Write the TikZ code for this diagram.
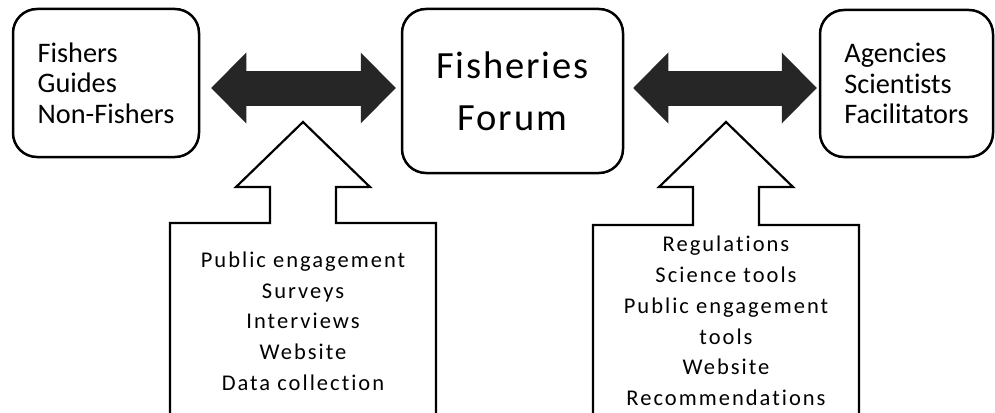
\documentclass[tikz,border=0pt]{standalone}
\usepackage{fontspec}
\setmainfont{Carlito}[Ligatures=CommonOff]
\newfontfamily\hubfont{Carlito}[LetterSpace=5, Ligatures=CommonOff]
\newfontfamily\listfont{Carlito}[LetterSpace=9, Ligatures=CommonOff]
\usetikzlibrary{positioning,arrows.meta}

\begin{document}
\begin{tikzpicture}[x=1pt, y=-1pt,
      every node/.style={font=\fontsize{28.3}{30.3}\selectfont},
      group/.style={draw, line width=2.5pt, rounded corners=24pt,
        align=left, inner sep=0pt},
      hub/.style={group, align=center, font=\hubfont\fontsize{38.5}{52}\selectfont},
      listtext/.style={align=center, inner sep=0pt,
        font=\listfont\fontsize{22.5}{30.7}\selectfont},
      callout/.style={draw, line width=2.2pt, fill=white},
      link/.style={line width=35pt, draw=black!85,
        {Triangle[length=35pt,width=71pt,line width=0pt]}-{Triangle[length=35pt,width=71pt,line width=0pt]}}
  ]
    \useasboundingbox (0,0) rectangle (995,412);
    \coordinate (row) at (0,88);

    % the three groups
    \node[group, minimum width=186pt, minimum height=148pt] (fishers) at (106,83)
      {Fishers\\Guides\\Non-Fishers};
    \node[hub, minimum width=221pt, minimum height=164pt] (forum) at (512.5,91)
      {Fisheries\\Forum};
    \node[group, minimum width=173pt, minimum height=147pt] (agencies) at (906.5,83.5)
      {Agencies\\Scientists\\Facilitators};

    % two-way links
    \draw[link, shorten <=11pt, shorten >=5pt] (fishers.east |- row) -- (forum.west |- row);
    \draw[link, shorten <=9pt, shorten >=2pt] (forum.east |- row) -- (agencies.west |- row);

    % input callouts
    \foreach \cx/\top in {303/223, 726/225}
      \draw[callout] (\cx-133,430) -- (\cx-133,\top) -- (\cx-33,\top) -- (\cx-33,187)
        -- (\cx-67,187) -- (\cx,122) -- (\cx+67,187) -- (\cx+33,187)
        -- (\cx+33,\top) -- (\cx+133,\top) -- (\cx+133,430);

    \node[listtext] (inputs) at (303,321)
      {Public engagement\\Surveys\\Interviews\\Website\\Data collection};
    \node[listtext] (outputs) at (726,321)
      {Regulations\\Science tools\\Public engagement\\tools\\Website\\Recommendations};
  \end{tikzpicture}
\end{document}
